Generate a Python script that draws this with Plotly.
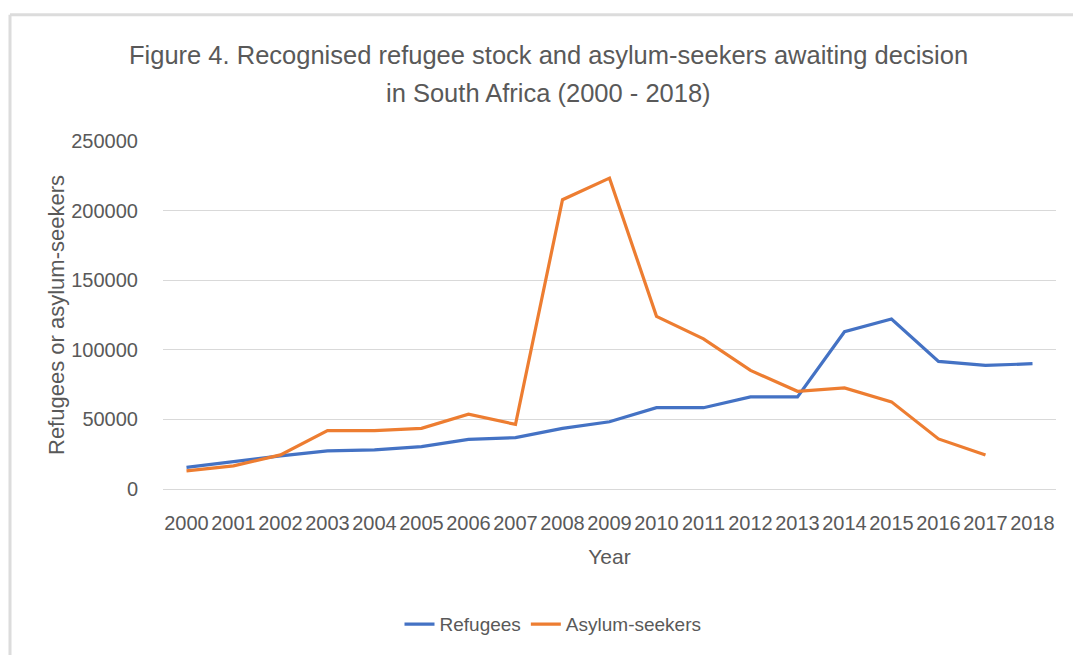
import plotly.graph_objects as go

years = [str(y) for y in range(2000, 2019)]
refugees = [15500, 19800, 23800, 27400, 28100, 30500, 35700, 36900, 43600, 48300,
            58400, 58400, 66200, 66200, 113000, 122100, 91700, 88800, 90000]
asylum_seekers = [13000, 16600, 24500, 41900, 42000, 43600, 53800, 46400, 207800, 223300,
                  124000, 107900, 85200, 70200, 72600, 62600, 36000, 24500, None]
y_ticks = [0, 50000, 100000, 150000, 200000, 250000]
title_lines = ["Figure 4. Recognised refugee stock and asylum-seekers awaiting decision",
               "in South Africa (2000 - 2018)"]

W, H = 1073, 655
L, R, T, B = 163, 17, 141, 164
pw, ph = W - L - R, H - T - B

def px(x):
    return (x - L) / pw

def py(y):
    return (H - B - y) / ph

FONT = "Liberation Sans"
GREY = "#595959"

fig = go.Figure()
fig.add_trace(go.Scatter(x=years, y=refugees, mode="lines", name="Refugees",
                         line=dict(color="#4472C4", width=3.2)))
fig.add_trace(go.Scatter(x=years, y=asylum_seekers, mode="lines", name="Asylum-seekers",
                         line=dict(color="#ED7D31", width=3.2)))

fig.update_layout(
    width=W, height=H,
    margin=dict(l=L, r=R, t=T, b=B),
    paper_bgcolor="white", plot_bgcolor="white",
    font=dict(family=FONT, color=GREY),
    xaxis=dict(type="category", range=[-0.5, len(years) - 0.5], showgrid=False,
               showline=False, ticks="", ticklabelstandoff=20,
               tickfont=dict(size=20, color=GREY),
               title=dict(text="Year", font=dict(size=21, color=GREY), standoff=16)),
    yaxis=dict(range=[0, 250000], tickvals=y_ticks, ticktext=[str(v) for v in y_ticks],
               showgrid=True, gridcolor="#d9d9d9", gridwidth=1, zeroline=True,
               zerolinecolor="#d9d9d9", zerolinewidth=1, showline=False, ticks="",
               ticklabelstandoff=24,
               tickfont=dict(size=20, color=GREY),
               title=dict(text="Refugees or asylum-seekers", font=dict(size=22, color=GREY),
                          standoff=0)),
    legend=dict(orientation="h", x=px(553), xanchor="center", y=py(627), yanchor="middle",
                font=dict(size=19, color=GREY), traceorder="normal"),
    showlegend=True,
)

for i, (txt, yc) in enumerate(zip(title_lines, [55, 93])):
    fig.add_annotation(text=txt, xref="paper", yref="paper", x=px(548), y=py(yc),
                       xanchor="center", yanchor="middle", showarrow=False,
                       font=dict(family=FONT, size=25.5, color=GREY))

fig.add_shape(type="line", xref="paper", yref="paper",
              x0=px(10), x1=px(1080), y0=py(14), y1=py(14),
              line=dict(color="#dcdcdc", width=3))
fig.add_shape(type="line", xref="paper", yref="paper",
              x0=px(10), x1=px(10), y0=py(14), y1=py(670),
              line=dict(color="#dcdcdc", width=3))

fig.write_html("out.html")
